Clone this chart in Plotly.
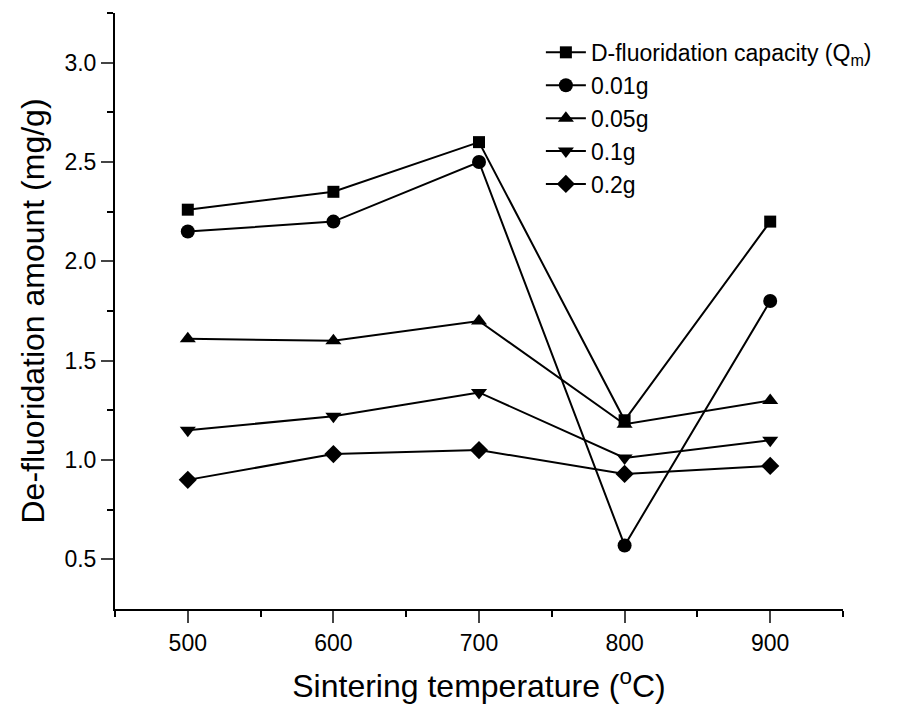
import plotly.graph_objects as go

temps = [500, 600, 700, 800, 900]
qm = [2.26, 2.35, 2.60, 1.20, 2.20]
g001 = [2.15, 2.20, 2.50, 0.57, 1.80]
g005 = [1.61, 1.60, 1.70, 1.18, 1.30]
g01 = [1.15, 1.22, 1.34, 1.01, 1.10]
g02 = [0.90, 1.03, 1.05, 0.93, 0.97]

names = ["D-fluoridation capacity (Q<sub>m</sub>)", "0.01g", "0.05g", "0.1g", "0.2g"]
series = [qm, g001, g005, g01, g02]
symbols = ["square", "circle", "triangle-up", "triangle-down", "diamond"]
sizes = [12, 14, 14, 14, 14]

fig = go.Figure()
for n, s, sym, sz in zip(names, series, symbols, sizes):
    fig.add_trace(go.Scatter(
        x=temps, y=s, name=n, mode="lines+markers",
        line=dict(color="black", width=2),
        marker=dict(symbol=sym, size=sz, color="black"),
    ))

font = "Liberation Sans, Arial, sans-serif"
fig.update_layout(
    width=899, height=713,
    margin=dict(l=115, r=56, t=13, b=104),
    paper_bgcolor="white", plot_bgcolor="white",
    font=dict(family=font, size=23, color="black"),
    legend=dict(x=0.585, y=0.97, xanchor="left", yanchor="top",
                bgcolor="rgba(0,0,0,0)", font=dict(size=23),
                tracegroupgap=0, itemwidth=40),
    xaxis=dict(
        range=[450, 950], tickvals=temps, ticks="outside", ticklen=12, tickwidth=2,
        showline=True, linecolor="black", linewidth=2, showgrid=False, zeroline=False,
        minor=dict(tickvals=[450, 550, 650, 750, 850, 950], ticks="outside", ticklen=6, tickwidth=2, tickcolor="black"),
        title=dict(text="Sintering temperature (<sup>o</sup>C)", font=dict(size=32), standoff=20),
        tickfont=dict(size=23),
    ),
    yaxis=dict(
        range=[0.25, 3.25], tickvals=[0.5, 1.0, 1.5, 2.0, 2.5, 3.0], ticktext=["0.5", "1.0", "1.5", "2.0", "2.5", "3.0"],
        ticks="outside", ticklen=12, tickwidth=2,
        showline=True, linecolor="black", linewidth=2, showgrid=False, zeroline=False,
        minor=dict(tickvals=[0.75, 1.25, 1.75, 2.25, 2.75, 3.25], ticks="outside", ticklen=6, tickwidth=2, tickcolor="black"),
        title=dict(text="De-fluoridation amount (mg/g)", font=dict(size=32), standoff=10),
        tickfont=dict(size=23),
    ),
)

fig.write_html("out.html")
